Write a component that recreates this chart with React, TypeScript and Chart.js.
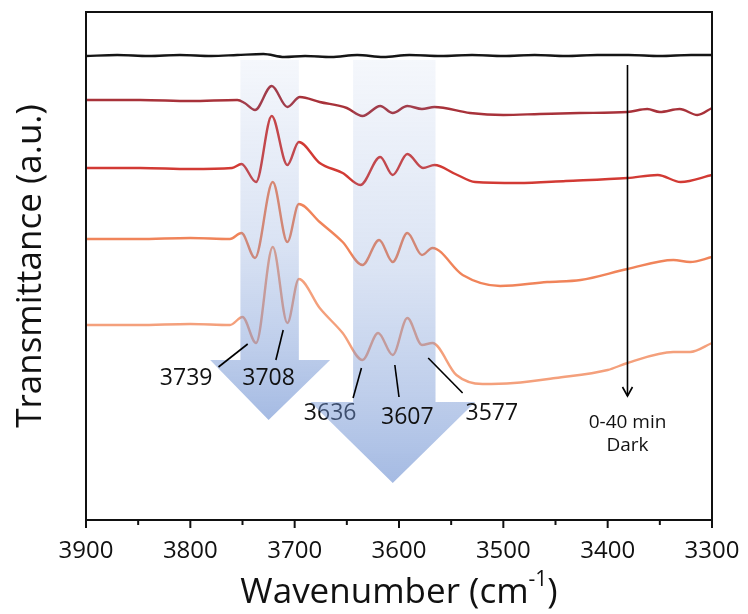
import React, { useEffect, useRef } from "react";
import { Chart, registerables } from "chart.js";

Chart.register(...registerables);

// Wavenumber (cm-1) and transmittance (a.u., arbitrary offsets) for each spectrum
const wnBlack = [3900, 3870, 3840, 3810, 3780, 3755, 3730, 3710, 3690, 3665, 3640, 3615, 3590, 3560, 3530, 3500, 3470, 3440, 3410, 3380, 3350, 3320, 3300];
const tBlack = [464, 465, 464, 465, 464, 465, 466, 463, 464, 463, 465, 463, 465, 464, 465, 464, 465, 464, 465, 465, 464, 465, 465];

const wn1 = [3900, 3848, 3800, 3755, 3748, 3738, 3722, 3707, 3695, 3676, 3650, 3635, 3618, 3606, 3592, 3578, 3566, 3532, 3500, 3465, 3427, 3381, 3362, 3350, 3331, 3314, 3300];
const t1 = [420, 420, 419, 420, 417, 410, 434, 413, 423, 418, 412, 404, 414, 407, 414, 411, 413, 407, 405, 406, 407, 408, 411, 408, 411, 405, 412];

const wn2 = [3900, 3848, 3800, 3760, 3751, 3737, 3722, 3707, 3696, 3676, 3654, 3637, 3618, 3606, 3592, 3577, 3566, 3546, 3527, 3486, 3440, 3381, 3352, 3330, 3300];
const t2 = [352, 352, 351, 352, 356, 338, 404, 355, 378, 357, 347, 335, 363, 345, 366, 352, 355, 346, 338, 337, 339, 342, 345, 338, 345];

const wn3 = [3900, 3850, 3800, 3762, 3751, 3738, 3721, 3707, 3696, 3676, 3654, 3635, 3619, 3606, 3592, 3578, 3568, 3539, 3503, 3458, 3426, 3381, 3337, 3321, 3300];
const t3 = [281, 281, 282, 281, 287, 262, 338, 278, 316, 298, 278, 255, 280, 258, 287, 265, 272, 245, 234, 238, 240, 251, 260, 258, 263];

const wn4 = [3900, 3850, 3800, 3762, 3750, 3737, 3721, 3707, 3696, 3676, 3654, 3635, 3620, 3606, 3592, 3578, 3568, 3545, 3520, 3490, 3450, 3400, 3381, 3337, 3321, 3300];
const t4 = [195, 195, 196, 195, 203, 177, 273, 197, 241, 212, 187, 160, 187, 165, 202, 175, 177, 145, 136, 137, 142, 150, 157, 168, 168, 177];

const xTicks = [3900, 3800, 3700, 3600, 3500, 3400, 3300];
const peakLabels = ["3739", "3708", "3636", "3607", "3577"];
const peakLineFrom = [[3745, 176], [3711, 190], [3636, 152], [3604, 155], [3572, 162]];
const peakLineTo = [[3773, 153], [3718, 160], [3644, 122], [3600, 123], [3539, 127]];
const peakTextAt = [[3804, 142], [3725, 142], [3666, 107], [3592, 103], [3511, 107]];

const FONT = "'Open Sans', 'Noto Sans', sans-serif";

function pts(xs: number[], ys: number[]) {
  return xs.map((x, i) => ({ x, y: ys[i] }));
}

const deco = {
  id: "deco",
  afterDatasetsDraw(chart: any) {
    const { ctx, scales, chartArea } = chart;
    const X = (v: number) => scales.x.getPixelForValue(v);
    const Y = (v: number) => scales.y.getPixelForValue(v);
    ctx.save();
    ctx.textAlign = "center";
    ctx.textBaseline = "middle";
    ctx.fillStyle = "#111";
    ctx.font = `23px ${FONT}`;
    // label that sits partly under the big arrow
    ctx.fillText(peakLabels[2], X(peakTextAt[2][0]), Y(peakTextAt[2][1]));

    const arrow = (l: number, r: number, top: number, sb: number, hl: number, hr: number, tipX: number, tipY: number) => {
      const g = ctx.createLinearGradient(0, Y(top), 0, Y(tipY));
      g.addColorStop(0, "rgba(110,145,210,0.07)");
      g.addColorStop(0.5, "rgba(110,145,210,0.25)");
      g.addColorStop(0.8, "rgba(110,145,210,0.45)");
      g.addColorStop(1, "rgba(110,145,210,0.62)");
      ctx.fillStyle = g;
      ctx.beginPath();
      ctx.moveTo(X(l), Y(top));
      ctx.lineTo(X(r), Y(top));
      ctx.lineTo(X(r), Y(sb));
      ctx.lineTo(X(hr), Y(sb));
      ctx.lineTo(X(tipX), Y(tipY));
      ctx.lineTo(X(hl), Y(sb));
      ctx.lineTo(X(l), Y(sb));
      ctx.closePath();
      ctx.fill();
    };
    arrow(3752, 3696, 460, 160, 3781, 3666, 3725, 100);
    arrow(3644, 3565, 460, 118, 3685, 3527, 3606, 37);

    ctx.strokeStyle = "#000";
    ctx.lineWidth = 1.6;
    ctx.fillStyle = "#111";
    ctx.font = `23px ${FONT}`;
    peakLabels.forEach((lab, i) => {
      ctx.beginPath();
      ctx.moveTo(X(peakLineFrom[i][0]), Y(peakLineFrom[i][1]));
      ctx.lineTo(X(peakLineTo[i][0]), Y(peakLineTo[i][1]));
      ctx.stroke();
      if (i !== 2) ctx.fillText(lab, X(peakTextAt[i][0]), Y(peakTextAt[i][1]));
    });
    const ax = X(3381);
    ctx.lineWidth = 1.6;
    ctx.beginPath();
    ctx.moveTo(ax, Y(455));
    ctx.lineTo(ax, Y(124));
    ctx.stroke();
    ctx.beginPath();
    ctx.moveTo(ax - 5, Y(133));
    ctx.lineTo(ax, Y(124));
    ctx.lineTo(ax + 5, Y(133));
    ctx.stroke();
    ctx.font = `19px ${FONT}`;
    ctx.fillText("0-40 min", ax, Y(97));
    ctx.fillText("Dark", ax, Y(74));
    // frame
    ctx.lineWidth = 2;
    ctx.strokeStyle = "#111";
    ctx.strokeRect(chartArea.left, chartArea.top, chartArea.right - chartArea.left, chartArea.bottom - chartArea.top);
    // ticks and tick labels
    for (let v = 3300; v <= 3900; v += 50) {
      const major = v % 100 === 0;
      const px = X(v);
      ctx.beginPath();
      ctx.moveTo(px, chartArea.bottom);
      ctx.lineTo(px, chartArea.bottom + (major ? 8 : 5));
      ctx.stroke();
    }
    ctx.font = `24px ${FONT}`;
    xTicks.forEach((v) => ctx.fillText(String(v), X(v), chartArea.bottom + 31));
    // x title with superscript
    const cx = (chartArea.left + chartArea.right) / 2;
    const ty = chartArea.bottom + 73;
    const main = "Wavenumber (cm";
    const sup = "-1";
    const close = ")";
    ctx.font = `35px ${FONT}`;
    const wMain = ctx.measureText(main).width;
    const wClose = ctx.measureText(close).width;
    ctx.font = `21px ${FONT}`;
    const wSup = ctx.measureText(sup).width;
    let sx = cx - (wMain + wSup + wClose) / 2;
    ctx.textAlign = "left";
    ctx.font = `35px ${FONT}`;
    ctx.fillText(main, sx, ty);
    sx += wMain;
    ctx.font = `21px ${FONT}`;
    ctx.fillText(sup, sx, ty - 13);
    sx += wSup;
    ctx.font = `35px ${FONT}`;
    ctx.fillText(close, sx, ty);
    // y title
    ctx.textAlign = "center";
    ctx.translate(31, 266);
    ctx.rotate(-Math.PI / 2);
    ctx.font = `35px ${FONT}`;
    ctx.fillText("Transmittance (a.u.)", 0, 0);
    ctx.restore();
  },
};

export default function App() {
  const ref = useRef<HTMLCanvasElement>(null);
  useEffect(() => {
    document.body.style.margin = "0";
    const ds = (data: any, color: string) => ({
      data,
      borderColor: color,
      borderWidth: 2.4,
      pointRadius: 0,
      cubicInterpolationMode: "monotone",
      fill: false,
    });
    const chart = new Chart(ref.current!, {
      type: "line",
      plugins: [deco],
      data: {
        datasets: [
          ds(pts(wnBlack, tBlack), "#151515"),
          ds(pts(wn1, t1), "#a8323a"),
          ds(pts(wn2, t2), "#d23a34"),
          ds(pts(wn3, t3), "#f0845a"),
          ds(pts(wn4, t4), "#f4a07c"),
        ],
      },
      options: {
        animation: false,
        responsive: false,
        maintainAspectRatio: false,
        layout: { padding: { left: 86, right: 36, top: 12, bottom: 0 } },
        plugins: { legend: { display: false }, tooltip: { enabled: false } },
        scales: {
          x: {
            type: "linear",
            reverse: true,
            min: 3300,
            max: 3900,
            grid: { display: false, drawTicks: false },
            border: { display: false },
            ticks: { display: false },
            title: { display: false },
            afterFit: (s: any) => {
              s.height = 94;
              s.paddingLeft = 0;
              s.paddingRight = 0;
            },
          },
          y: {
            display: false,
            min: 0,
            max: 508,
          },
        },
      },
    } as any);
    return () => chart.destroy();
  }, []);
  return <canvas ref={ref} width={748} height={614} style={{ display: "block" }} />;
}
